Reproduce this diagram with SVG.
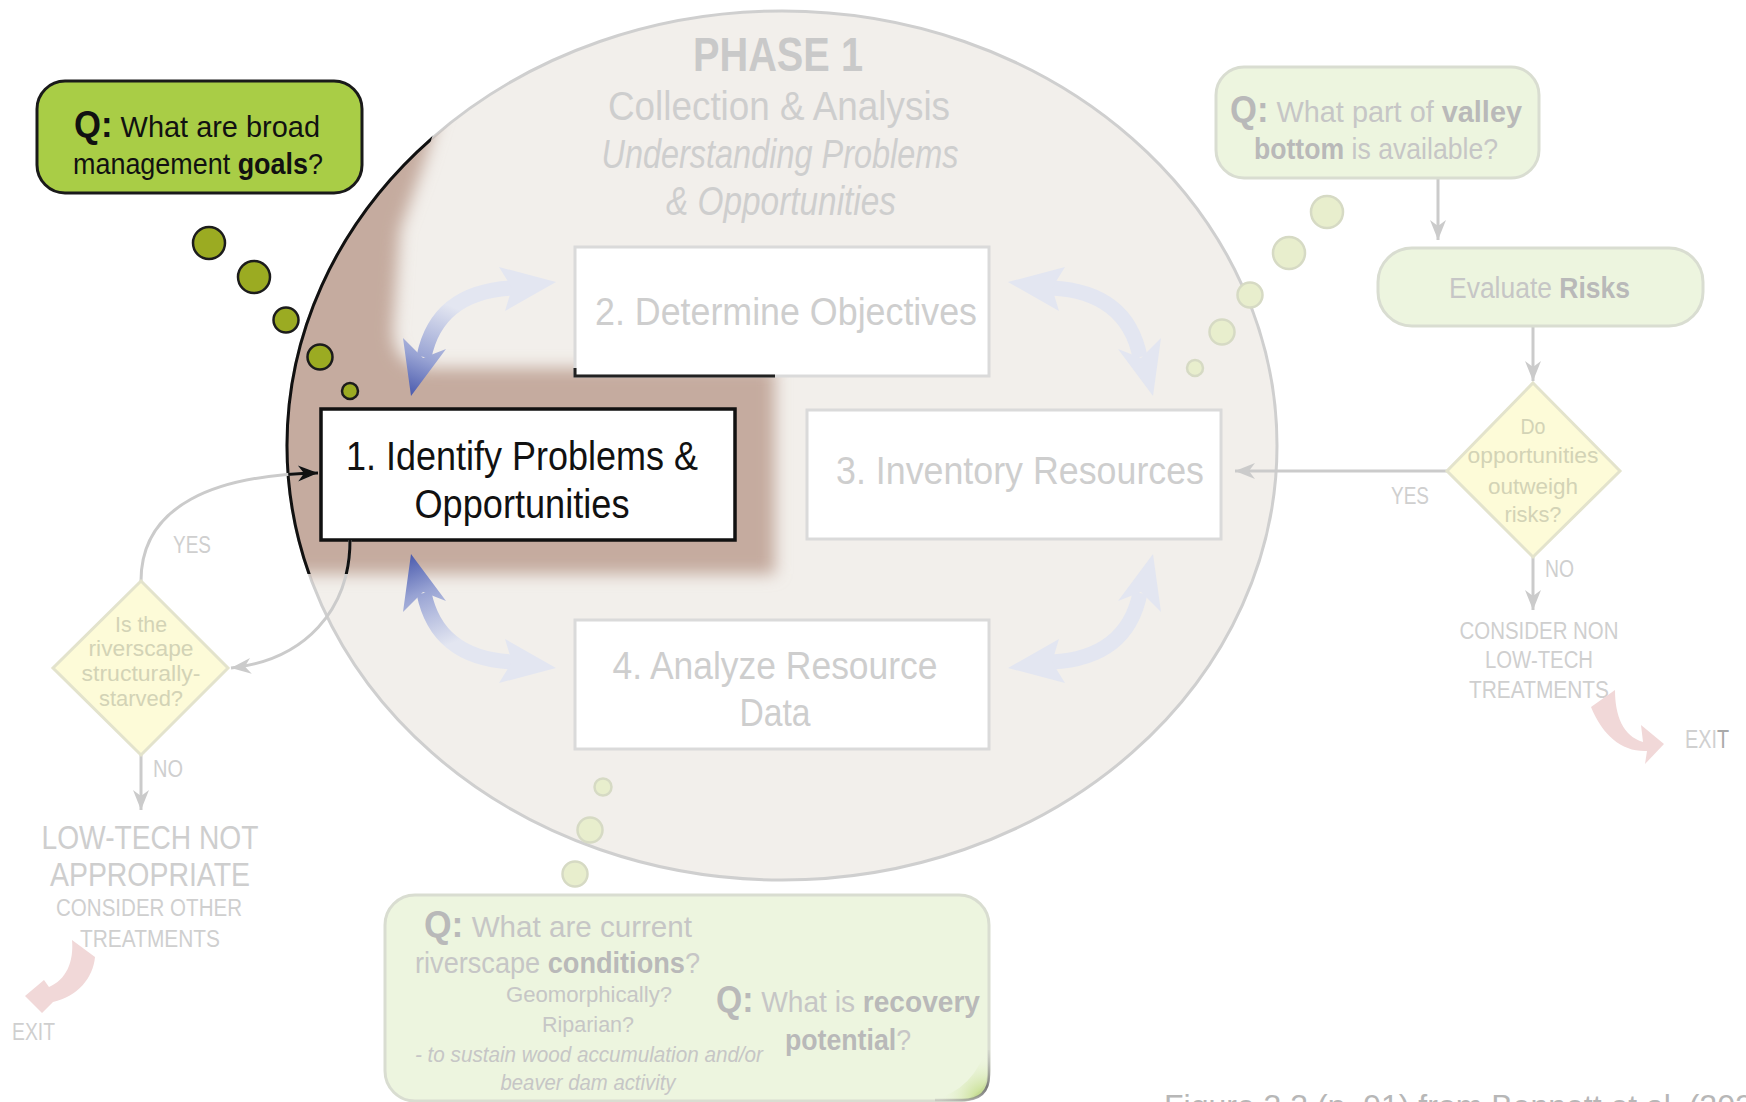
<svg xmlns="http://www.w3.org/2000/svg" width="1746" height="1102" viewBox="0 0 1746 1102">
<defs>
<style>
text { font-family: "Liberation Sans", Arial, sans-serif; }
.fd { fill: #cecece; }
.fq { fill: #c6c6c6; }
.fqb { fill: #b9b9b9; font-weight: bold; }
.box { fill: #ffffff; stroke: #dadada; stroke-width: 3; }
.qb { fill: #edf5df; stroke: #d9ddd1; stroke-width: 3; }
.dotf { fill: #e8eecd; stroke: #d6dac4; stroke-width: 2.5; }
.dot { fill: #9bab22; stroke: #1c1c1c; stroke-width: 2.5; }
.cn { fill: none; stroke: #cbcbcb; stroke-width: 3; }
.ck { fill: none; stroke: #111111; stroke-width: 3; }
.dia { fill: #fdfbd8; stroke: #e3e3cc; stroke-width: 3; }
.dt { fill: #d3d3b6; font-size: 22px; }
.ex { fill: #f1d8d8; }
.lbl { fill: #cfcfcf; font-size: 23px; }
.nt { fill: #cecece; font-size: 38px; }
</style>
<marker id="mg" viewBox="-22 -10 24 20" refX="0" refY="0" markerWidth="24" markerHeight="20" markerUnits="userSpaceOnUse" orient="auto"><path d="M0,0 L-20,-8 L-14,0 L-20,8 Z" fill="#cbcbcb"/></marker>
<marker id="mk" viewBox="-22 -10 24 20" refX="0" refY="0" markerWidth="24" markerHeight="20" markerUnits="userSpaceOnUse" orient="auto"><path d="M0,0 L-20,-8 L-14,0 L-20,8 Z" fill="#111111"/></marker>
<linearGradient id="gBlue" gradientUnits="userSpaceOnUse" x1="411" y1="396" x2="448" y2="305">
<stop offset="0" stop-color="#4a5aad"/><stop offset="0.4" stop-color="#97a2d3"/><stop offset="1" stop-color="#e3e6f1"/>
</linearGradient>
<radialGradient id="gCurl" gradientUnits="userSpaceOnUse" cx="985" cy="1100" r="45">
<stop offset="0" stop-color="#b5d46c"/><stop offset="1" stop-color="#edf5df" stop-opacity="0"/>
</radialGradient>
<linearGradient id="gEdge" gradientUnits="userSpaceOnUse" x1="992" y1="1050" x2="940" y2="1101">
<stop offset="0" stop-color="#9a9a9a" stop-opacity="0"/><stop offset="0.4" stop-color="#7a7a7a"/><stop offset="1" stop-color="#9a9a9a" stop-opacity="0.3"/>
</linearGradient>
<filter id="blur" x="-20%" y="-20%" width="140%" height="140%"><feGaussianBlur stdDeviation="8"/></filter>
<clipPath id="clipE"><ellipse cx="782" cy="445.5" rx="495" ry="434.5"/></clipPath>
<clipPath id="clipH"><path d="M230,95 L445,95 L425,160 L400,230 L393,330 Q393,368 432,368 L775,368 L775,574 L230,574 Z"/></clipPath>
<path id="abody" d="M424,357 Q437,292 512,288" fill="none" stroke-width="15"/>
<polygon id="ah1" points="411,396 446,349 423,358 403,338"/>
<polygon id="ah2" points="556,282 505,311 512,288 499,267"/>
</defs>

<rect x="0" y="0" width="1746" height="1102" fill="#ffffff"/>

<g id="phase1">
<ellipse cx="782" cy="445.5" rx="495" ry="434.5" fill="#f2efeb" stroke="#cfcfcf" stroke-width="3"/>
<g clip-path="url(#clipE)"><path d="M230,95 L445,95 L425,160 L400,230 L393,330 Q393,368 432,368 L775,368 L775,574 L230,574 Z" fill="#c5ab9f" filter="url(#blur)"/></g>
<g clip-path="url(#clipH)"><ellipse cx="782" cy="445.5" rx="495" ry="434.5" fill="none" stroke="#111111" stroke-width="3"/></g>
<text x="778" y="71" text-anchor="middle" font-size="48" font-weight="bold" fill="#c9c9c9" textLength="170" lengthAdjust="spacingAndGlyphs">PHASE 1</text>
<text x="779" y="120" text-anchor="middle" font-size="40" class="fd" textLength="342" lengthAdjust="spacingAndGlyphs">Collection &amp; Analysis</text>
<text x="780" y="168" text-anchor="middle" font-size="40" font-style="italic" class="fd" textLength="357" lengthAdjust="spacingAndGlyphs">Understanding Problems</text>
<text x="781" y="215" text-anchor="middle" font-size="40" font-style="italic" class="fd" textLength="230" lengthAdjust="spacingAndGlyphs">&amp; Opportunities</text>
</g>

<g id="cycle-arrows">
<g><use href="#abody" stroke="url(#gBlue)"/><use href="#ah1" fill="url(#gBlue)"/><use href="#ah2" fill="#e3e6f1"/></g>
<g transform="matrix(-1,0,0,1,1564,0)"><use href="#abody" stroke="#e3e6f1"/><use href="#ah1" fill="#e3e6f1"/><use href="#ah2" fill="#e3e6f1"/></g>
<g transform="matrix(-1,0,0,-1,1564,950)"><use href="#abody" stroke="#e3e6f1"/><use href="#ah1" fill="#e3e6f1"/><use href="#ah2" fill="#e3e6f1"/></g>
<g transform="matrix(1,0,0,-1,0,950)"><use href="#abody" stroke="url(#gBlue)"/><use href="#ah1" fill="url(#gBlue)"/><use href="#ah2" fill="#e3e6f1"/></g>
</g>

<g id="node2">
<rect x="575" y="247" width="414" height="129" class="box"/>
<g clip-path="url(#clipH)"><rect x="575" y="247" width="414" height="129" fill="none" stroke="#222222" stroke-width="3"/></g>
<text x="786" y="325" text-anchor="middle" class="nt" textLength="382" lengthAdjust="spacingAndGlyphs">2. Determine Objectives</text>
</g>
<g id="node3">
<rect x="807" y="410" width="414" height="129" class="box"/>
<text x="1020" y="484" text-anchor="middle" class="nt" textLength="368" lengthAdjust="spacingAndGlyphs">3. Inventory Resources</text>
</g>
<g id="node4">
<rect x="575" y="620" width="414" height="129" class="box"/>
<text x="775" y="679" text-anchor="middle" class="nt" textLength="325" lengthAdjust="spacingAndGlyphs">4. Analyze Resource</text>
<text x="775" y="726" text-anchor="middle" class="nt" textLength="71" lengthAdjust="spacingAndGlyphs">Data</text>
</g>
<g id="node1">
<rect x="321" y="409" width="414" height="131" fill="#ffffff" stroke="#111111" stroke-width="3.5"/>
<text x="522" y="470" text-anchor="middle" font-size="40" fill="#111111" textLength="352" lengthAdjust="spacingAndGlyphs">1. Identify Problems &amp;</text>
<text x="522" y="518" text-anchor="middle" font-size="40" fill="#111111" textLength="215" lengthAdjust="spacingAndGlyphs">Opportunities</text>
</g>

<g id="connectors">
<line x1="1438" y1="179" x2="1438" y2="240" class="cn" marker-end="url(#mg)"/>
<line x1="1533" y1="326" x2="1533" y2="381" class="cn" marker-end="url(#mg)"/>
<line x1="1447" y1="471" x2="1235" y2="471" class="cn" marker-end="url(#mg)"/>
<line x1="1533" y1="557" x2="1533" y2="610" class="cn" marker-end="url(#mg)"/>
<line x1="141" y1="755" x2="141" y2="810" class="cn" marker-end="url(#mg)"/>
<path d="M141,581 C141,505 215,475 318,473" class="cn" marker-end="url(#mg)"/>
<path d="M350,540 C350,610 305,660 231,668" class="cn" marker-end="url(#mg)"/>
<g clip-path="url(#clipH)"><g clip-path="url(#clipE)">
<path d="M141,581 C141,505 215,475 318,473" class="ck" marker-end="url(#mk)"/>
<path d="M350,540 C350,610 305,660 231,668" class="ck"/>
</g></g>
<text x="173" y="553" class="lbl" textLength="38" lengthAdjust="spacingAndGlyphs">YES</text>
<text x="153" y="777" class="lbl" textLength="30" lengthAdjust="spacingAndGlyphs">NO</text>
<text x="1391" y="504" class="lbl" textLength="38" lengthAdjust="spacingAndGlyphs">YES</text>
<text x="1545" y="577" class="lbl" textLength="29" lengthAdjust="spacingAndGlyphs">NO</text>
</g>

<g id="q-goals">
<rect x="37" y="81" width="325" height="112" rx="28" fill="#a9cd46" stroke="#1a1a1a" stroke-width="3"/>
<text x="74" y="137" font-size="30" fill="#111111" textLength="246" lengthAdjust="spacingAndGlyphs"><tspan font-size="36" font-weight="bold">Q:</tspan> What are broad</text>
<text x="73" y="174" font-size="30" fill="#111111" textLength="250" lengthAdjust="spacingAndGlyphs">management <tspan font-weight="bold">goals</tspan>?</text>
<circle cx="209" cy="243" r="16" class="dot"/>
<circle cx="254" cy="277" r="16" class="dot"/>
<circle cx="286" cy="320" r="12.5" class="dot"/>
<circle cx="320" cy="357" r="12.5" class="dot"/>
<circle cx="350" cy="391" r="8" class="dot"/>
</g>

<g id="q-valley">
<rect x="1216" y="67" width="323" height="111" rx="28" class="qb"/>
<text x="1230" y="122" font-size="30" class="fq" textLength="292" lengthAdjust="spacingAndGlyphs"><tspan class="fqb" font-size="36">Q:</tspan> What part of <tspan class="fqb">valley</tspan></text>
<text x="1254" y="159" font-size="30" class="fq" textLength="244" lengthAdjust="spacingAndGlyphs"><tspan class="fqb">bottom</tspan> is available?</text>
<circle cx="1327" cy="212" r="16" class="dotf"/>
<circle cx="1289" cy="253" r="16" class="dotf"/>
<circle cx="1250" cy="295" r="12.5" class="dotf"/>
<circle cx="1222" cy="332" r="12.5" class="dotf"/>
<circle cx="1195" cy="368" r="8" class="dotf"/>
</g>

<g id="evaluate-risks">
<rect x="1378" y="248" width="325" height="78" rx="34" class="qb"/>
<text x="1449" y="298" font-size="30" class="fq" textLength="181" lengthAdjust="spacingAndGlyphs">Evaluate <tspan class="fqb">Risks</tspan></text>
</g>

<g id="decision-risks">
<polygon points="1533,383 1620,471 1533,557 1447,471" class="dia"/>
<text x="1533" y="434" text-anchor="middle" class="dt" textLength="25" lengthAdjust="spacingAndGlyphs">Do</text>
<text x="1533" y="463" text-anchor="middle" class="dt" textLength="131" lengthAdjust="spacingAndGlyphs">opportunities</text>
<text x="1533" y="494" text-anchor="middle" class="dt" textLength="90" lengthAdjust="spacingAndGlyphs">outweigh</text>
<text x="1533" y="522" text-anchor="middle" class="dt" textLength="57" lengthAdjust="spacingAndGlyphs">risks?</text>
</g>

<g id="exit-right">
<text x="1539" y="639" text-anchor="middle" class="lbl" textLength="159" lengthAdjust="spacingAndGlyphs">CONSIDER NON</text>
<text x="1539" y="668" text-anchor="middle" class="lbl" textLength="108" lengthAdjust="spacingAndGlyphs">LOW-TECH</text>
<text x="1539" y="698" text-anchor="middle" class="lbl" textLength="140" lengthAdjust="spacingAndGlyphs">TREATMENTS</text>
<path d="M1615,690 C1615,716 1623,736 1643,742 L1641,725 L1664,744 L1645,764 L1647,751 C1622,752 1603,736 1591,707 Z" class="ex"/>
<text x="1685" y="748" font-size="25" fill="#d0d0d0" textLength="44" lengthAdjust="spacingAndGlyphs">EXI<tspan fill="#a9a9a9">T</tspan></text>
</g>

<g id="decision-starved">
<polygon points="141,581 228,668 141,755 53,668" class="dia"/>
<text x="141" y="632" text-anchor="middle" class="dt" textLength="52" lengthAdjust="spacingAndGlyphs">Is the</text>
<text x="141" y="656" text-anchor="middle" class="dt" textLength="105" lengthAdjust="spacingAndGlyphs">riverscape</text>
<text x="141" y="681" text-anchor="middle" class="dt" textLength="119" lengthAdjust="spacingAndGlyphs">structurally-</text>
<text x="141" y="706" text-anchor="middle" class="dt" textLength="84" lengthAdjust="spacingAndGlyphs">starved?</text>
</g>

<g id="exit-left">
<text x="150" y="849" text-anchor="middle" font-size="33" class="fd" textLength="217" lengthAdjust="spacingAndGlyphs">LOW-TECH NOT</text>
<text x="150" y="886" text-anchor="middle" font-size="33" class="fd" textLength="200" lengthAdjust="spacingAndGlyphs">APPROPRIATE</text>
<text x="149" y="916" text-anchor="middle" class="lbl" textLength="186" lengthAdjust="spacingAndGlyphs">CONSIDER OTHER</text>
<text x="150" y="947" text-anchor="middle" class="lbl" textLength="140" lengthAdjust="spacingAndGlyphs">TREATMENTS</text>
<path d="M72,940 C74,962 66,980 49,987 L44,980 L25,996 L42,1013 L53,1002 C78,996 93,978 95,957 Z" class="ex"/>
<text x="12" y="1040" class="lbl" textLength="43" lengthAdjust="spacingAndGlyphs">EXIT</text>
</g>

<g id="q-conditions">
<circle cx="603" cy="787" r="8.5" class="dotf"/>
<circle cx="590" cy="830" r="12.5" class="dotf"/>
<circle cx="575" cy="874" r="12.5" class="dotf"/>
<rect x="385" y="895" width="604" height="206" rx="30" class="qb"/>
<path d="M989,1040 L989,1075 Q989,1100 962,1100 L930,1100 Q975,1092 989,1040 Z" fill="url(#gCurl)"/>
<path d="M989,1050 L989,1075 Q989,1100 962,1100 L935,1100" fill="none" stroke="url(#gEdge)" stroke-width="2.5"/>
<text x="424" y="937" font-size="30" class="fq" textLength="268" lengthAdjust="spacingAndGlyphs"><tspan class="fqb" font-size="36">Q:</tspan> What are current</text>
<text x="415" y="973" font-size="30" class="fq" textLength="285" lengthAdjust="spacingAndGlyphs">riverscape <tspan class="fqb">conditions</tspan>?</text>
<text x="589" y="1002" text-anchor="middle" font-size="22" class="fq" textLength="166" lengthAdjust="spacingAndGlyphs">Geomorphically?</text>
<text x="588" y="1032" text-anchor="middle" font-size="22" class="fq" textLength="92" lengthAdjust="spacingAndGlyphs">Riparian?</text>
<text x="415" y="1062" font-size="22" font-style="italic" class="fq" textLength="348" lengthAdjust="spacingAndGlyphs">- to sustain wood accumulation and/or</text>
<text x="588" y="1090" text-anchor="middle" font-size="22" font-style="italic" class="fq" textLength="175" lengthAdjust="spacingAndGlyphs">beaver dam activity</text>
<text x="716" y="1012" font-size="30" class="fq" textLength="264" lengthAdjust="spacingAndGlyphs"><tspan class="fqb" font-size="36">Q:</tspan> What is <tspan class="fqb">recovery</tspan></text>
<text x="785" y="1050" font-size="30" class="fq" textLength="126" lengthAdjust="spacingAndGlyphs"><tspan class="fqb">potential</tspan>?</text>
</g>

<text x="1164" y="1117" font-size="32" fill="#b7b7b7">Figure 3.3 (p. 91) from Bennett et al. (2021)</text>
</svg>
